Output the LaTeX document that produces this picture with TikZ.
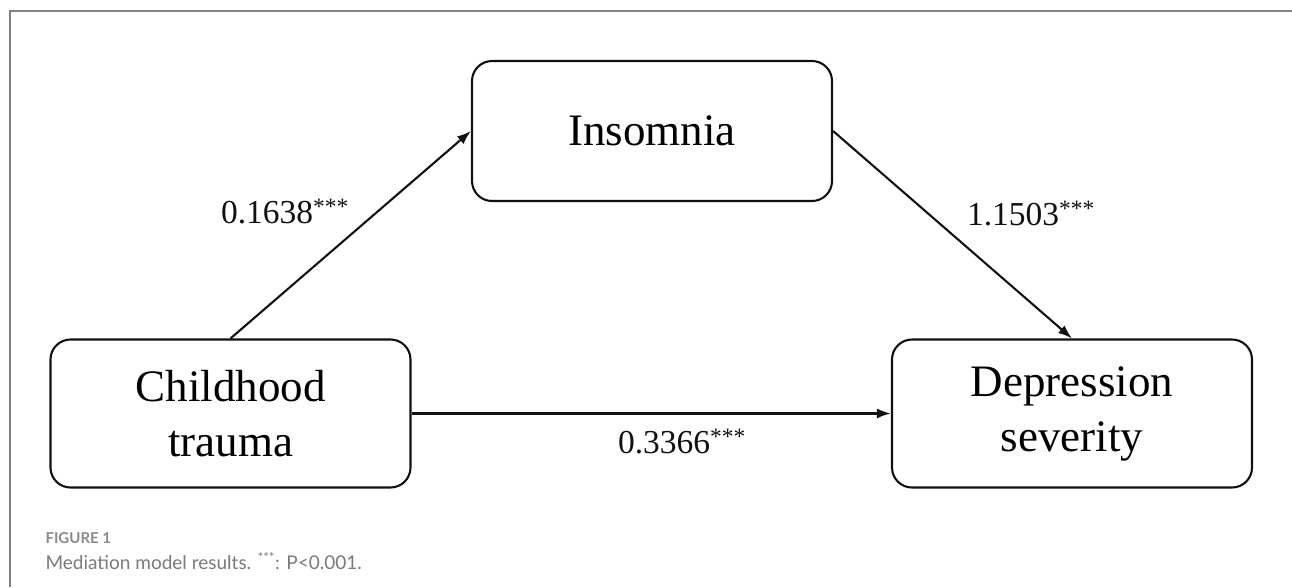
\documentclass[tikz,border=0pt]{standalone}
\usepackage{fontspec}
\setmainfont{Liberation Serif}
\newfontfamily\capfont{Lato}
\usepackage{xcolor}
\usepackage{tikz}
\usetikzlibrary{arrows.meta,positioning}
\definecolor{mdink}{HTML}{111111}
\definecolor{mdframe}{HTML}{808080}
\definecolor{mdcap}{HTML}{8A8A8A}
\definecolor{mdtext}{HTML}{7A7A7A}

\begin{document}
\begin{tikzpicture}[
  x=1pt,y=-1pt,
  var/.style={rounded corners=20pt,draw=mdink,line width=2.1pt,fill=white,
              minimum width=360pt,minimum height=148pt,align=center,
              font=\fontsize{45}{55}\selectfont},
  coef/.style={font=\fontsize{33.5}{40}\selectfont,text=mdink},
  path/.style={-{Latex[length=14pt,width=10pt]},color=mdink,line width=2.1pt}
]
\useasboundingbox (0,0) rectangle (1292,587);
\draw[mdframe,line width=2pt] (1292,11) -- (10,11) -- (10,587);
\node[var,minimum height=140pt] (ins) at (652,131) {Insomnia};
\node[var] (child) at (230.5,413.5) {Childhood\\trauma};
\node[var] (dep) at (1072,413.5) {Depression\\severity};
\draw[path] (child.north) -- (ins.west);
\draw[path] (ins.east) -- (dep.north);
\draw[path] (child.east) -- (dep.west);
\node[coef] (a) at (285,212) {0.1638\textsuperscript{***}};
\node[coef] (b) at (1031,214) {1.1503\textsuperscript{***}};
\node[coef] (c) at (682,442) {0.3366\textsuperscript{***}};
\node[anchor=west,font=\capfont\fontsize{15}{17}\selectfont\bfseries,text=mdcap]
  (fig) at (42,538) {FIGURE 1};
\node[anchor=west,font=\capfont\fontsize{19}{22}\selectfont,text=mdtext]
  (cap) at (42,561) {Mediation model results. \textsuperscript{***}: P<0.001.};
\end{tikzpicture}
\end{document}
